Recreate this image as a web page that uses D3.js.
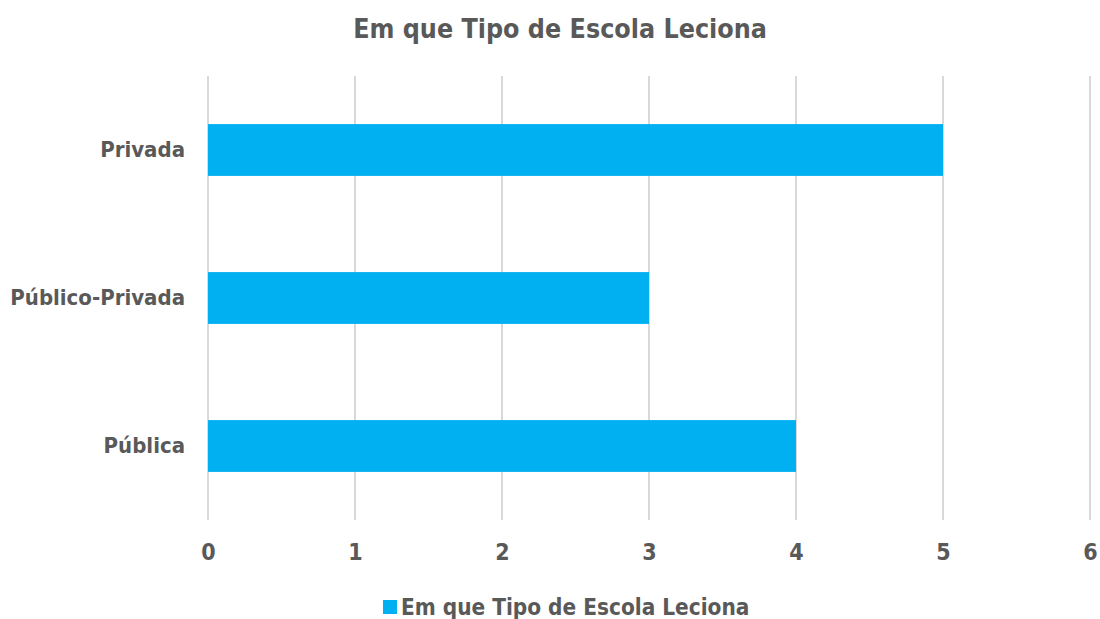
<!DOCTYPE html>
<html>
<head>
<meta charset="utf-8">
<script src="https://d3js.org/d3.v7.min.js"></script>
<style>
  body { margin: 0; background: #fff; }
  text { font-family: "DejaVu Sans Condensed", "DejaVu Sans", sans-serif; font-weight: bold; fill: #595959; }
</style>
</head>
<body>
<div id="chart"></div>
<script>
// data
const categories = ["Privada", "Público-Privada", "Pública"];
const values = [5, 3, 4];
const xTicks = [0, 1, 2, 3, 4, 5, 6];
const seriesName = "Em que Tipo de Escola Leciona";
const chartTitle = "Em que Tipo de Escola Leciona";

const width = 1100, height = 619;
const margin = { top: 76, right: 10, bottom: 99, left: 208 };

const svg = d3.select("#chart").append("svg")
  .attr("width", width)
  .attr("height", height);

const x = d3.scaleLinear()
  .domain([0, 6])
  .range([margin.left, 1090]);

const y = d3.scaleBand()
  .domain(categories)
  .range([margin.top, height - margin.bottom])
  .paddingInner(0.65)
  .paddingOuter(0.325);

// gridlines
svg.append("g")
  .selectAll("line")
  .data(xTicks)
  .join("line")
  .attr("x1", d => x(d))
  .attr("x2", d => x(d))
  .attr("y1", margin.top)
  .attr("y2", height - margin.bottom)
  .attr("stroke", "#d9d9d9")
  .attr("stroke-width", 2);

// bars
svg.append("g")
  .selectAll("rect")
  .data(categories)
  .join("rect")
  .attr("x", x(0))
  .attr("y", d => y(d))
  .attr("width", (d, i) => x(values[i]) - x(0))
  .attr("height", y.bandwidth())
  .attr("fill", "#00b0f0");

// x axis
const xAxis = svg.append("g")
  .attr("transform", `translate(0, ${height - margin.bottom})`)
  .call(d3.axisBottom(x).tickValues(xTicks).tickFormat(d3.format("d")).tickSize(0).tickPadding(24));
xAxis.select(".domain").remove();
xAxis.selectAll("text").style("font-size", "23px").attr("fill", "#595959");

// y axis
const yAxis = svg.append("g")
  .attr("transform", `translate(${margin.left}, 0)`)
  .call(d3.axisLeft(y).tickSize(0).tickPadding(23));
yAxis.select(".domain").remove();
yAxis.selectAll("text").style("font-size", "22px").attr("fill", "#595959");

// title
svg.append("text")
  .attr("x", 560)
  .attr("y", 38)
  .attr("text-anchor", "middle")
  .style("font-size", "26.6px")
  .text(chartTitle);

// legend
const legend = svg.append("g").attr("transform", "translate(383, 600)");
legend.append("rect")
  .attr("width", 14)
  .attr("height", 14)
  .attr("fill", "#00b0f0");
legend.append("text")
  .attr("x", 18)
  .attr("y", 15)
  .style("font-size", "22.4px")
  .text(seriesName);
</script>
</body>
</html>
